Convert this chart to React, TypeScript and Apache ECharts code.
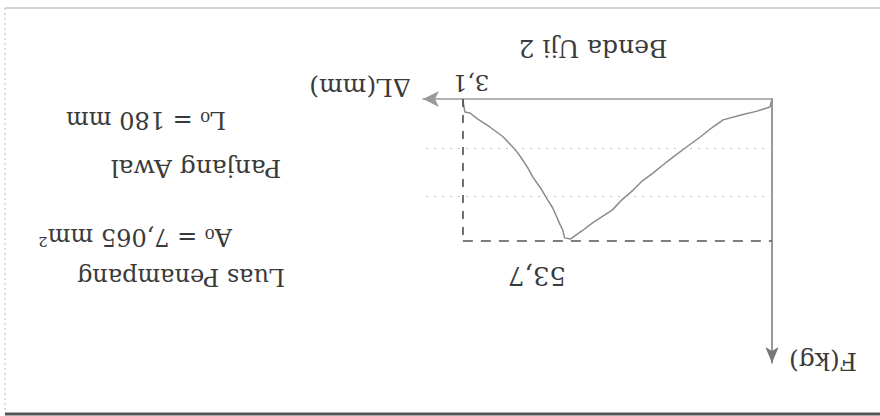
import React, { useEffect, useRef } from "react";
import * as echarts from "echarts";

// Elongation ΔL (mm) and force F (kg) read from the (upside-down) reference
const deltaL = [0, 0.02, 0.15, 0.3, 0.49, 0.6, 0.72, 0.85, 0.99, 1.1, 1.19, 1.3, 1.39, 1.5, 1.6, 1.7, 1.8, 1.9, 1.96, 2.02, 2.08, 2.1, 2.13, 2.16, 2.2, 2.25, 2.32, 2.4, 2.45, 2.5, 2.55, 2.6, 2.7, 2.83, 2.95, 3.03, 3.08, 3.1];
const force = [0, 3.0, 4.6, 6.0, 7.9, 10.8, 14.4, 18.0, 21.9, 25.2, 28.0, 31.0, 34.4, 38.0, 42.0, 44.5, 46.9, 49.8, 51.4, 53.0, 52.6, 49.5, 47.2, 44.6, 41.2, 38.2, 33.8, 29.5, 26.0, 23.1, 20.4, 18.2, 14.2, 10.6, 7.6, 5.3, 4.9, 0.4];

const peakForce = 53.7;
const maxElongation = 3.1;
const gridForces = [18.5, 37];

const titleText = "Benda Uji 2";
const xName = "ΔL(mm)";
const yName = "F(kg)";
const xMarkLabel = "3,1";
const yMarkLabel = "53,7";
const notes = ["L₀ = 180 mm", "Panjang Awal", "A₀ = 7,065 mm²", "Luas Penampang"];

export default function App() {
  const ref = useRef<HTMLDivElement>(null);
  useEffect(() => {
    if (!ref.current) return;
    const chart = echarts.init(ref.current, null, { renderer: "svg" });
    const font = "DejaVu Serif";
    const txt = (text: string, x: number, y: number, size: number) => ({
      type: "text",
      x,
      y,
      rotation: Math.PI,
      style: {
        text,
        fill: "#3a3a3a",
        fontFamily: font,
        fontSize: size,
        align: "center",
        verticalAlign: "middle",
      },
    });
    chart.setOption({
      animation: false,
      backgroundColor: "#fff",
      grid: { left: 423, right: 108, top: 99, bottom: 53 },
      xAxis: {
        type: "value",
        min: 0,
        max: 3.5,
        inverse: true,
        position: "top",
        axisLine: {
          show: true,
          onZero: false,
          symbol: ["arrow", "none"],
          symbolSize: [12, 16],
          lineStyle: { color: "#9a9a9a", width: 1.5 },
        },
        axisTick: { show: false },
        axisLabel: { show: false },
        splitLine: { show: false },
      },
      yAxis: {
        type: "value",
        min: 0,
        max: 100,
        inverse: true,
        position: "right",
        axisLine: {
          show: true,
          onZero: false,
          symbol: ["arrow", "none"],
          symbolSize: [10, 16],
          lineStyle: { color: "#777", width: 1.5 },
        },
        axisTick: { show: false },
        axisLabel: { show: false },
        splitLine: { show: false },
      },
      series: [
        {
          type: "line",
          data: deltaL.map((d, i) => [d, force[i]]),
          showSymbol: false,
          lineStyle: { color: "#8a8a8a", width: 1.5 },
          markLine: {
            silent: true,
            symbol: "none",
            label: { show: false },
            data: [
              ...gridForces.map((v) => ({
                yAxis: v,
                lineStyle: { color: "#c4c4c4", type: [2, 6], width: 1 },
              })),
              [
                { coord: [maxElongation, 0], lineStyle: { color: "#444", type: [8, 8], width: 1.5 } },
                { coord: [maxElongation, peakForce] },
              ],
              [
                { coord: [maxElongation, peakForce], lineStyle: { color: "#555", type: [10, 8], width: 1.5 } },
                { coord: [0, peakForce] },
              ],
            ],
          },
        },
      ],
      graphic: [
        txt(titleText, 593, 48, 25),
        txt(xMarkLabel, 471, 83, 23),
        txt(xName, 360, 87, 25),
        txt(yMarkLabel, 537, 276, 26),
        txt(yName, 823, 361, 25),
        txt(notes[0], 146, 120, 24),
        txt(notes[1], 196, 168, 25),
        txt(notes[2], 135, 237, 24),
        txt(notes[3], 181, 277, 24),
        { type: "line", shape: { x1: 5, y1: 8, x2: 880, y2: 8 }, style: { stroke: "#aaa", lineWidth: 1 } },
        { type: "line", shape: { x1: 5, y1: 8, x2: 5, y2: 414 }, style: { stroke: "#bbb", lineWidth: 1, lineDash: [2, 3] } },
        { type: "line", shape: { x1: 5, y1: 414, x2: 880, y2: 414 }, style: { stroke: "#555", lineWidth: 3 } },
      ],
    });
    return () => chart.dispose();
  }, []);
  return (
    <div
      ref={ref}
      style={{ position: "fixed", left: 0, top: 0, width: 880, height: 416 }}
    />
  );
}
